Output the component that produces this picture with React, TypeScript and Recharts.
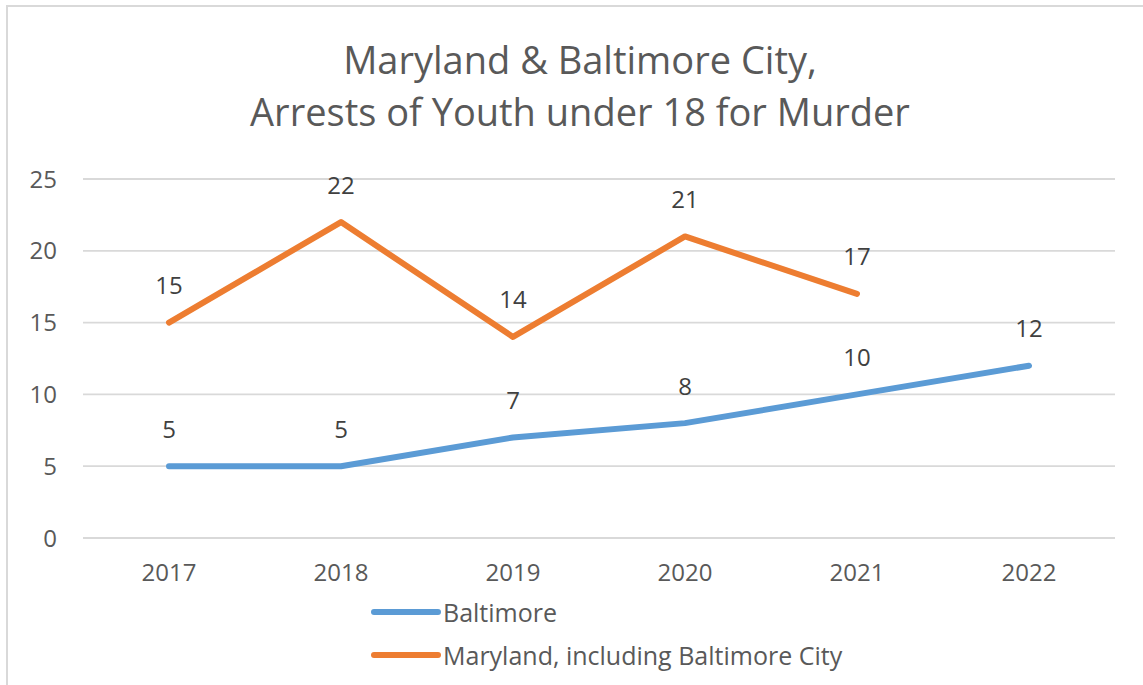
import React from 'react';
import { LineChart, Line, XAxis, YAxis, CartesianGrid, Legend, LabelList } from 'recharts';

const years = ['2017', '2018', '2019', '2020', '2021', '2022'];
const baltimore = [5, 5, 7, 8, 10, 12];
const maryland: (number | null)[] = [15, 22, 14, 21, 17, null];
const yTicks = [0, 5, 10, 15, 20, 25];
const seriesNames = ['Baltimore', 'Maryland, including Baltimore City'];
const seriesColors = ['#5b9bd5', '#ed7d31'];
const titleLines = ['Maryland & Baltimore City,', 'Arrests of Youth under 18 for Murder'];

const data = years.map((y, i) => ({ year: y, baltimore: baltimore[i], maryland: maryland[i] }));

const FONT = '"Open Sans", sans-serif';

const renderLabel = (props: any) => {
  const { x, y, value } = props;
  if (value === null || value === undefined) return null;
  return (
    <text
      x={x}
      y={y - 38}
      textAnchor="middle"
      dominantBaseline="central"
      fontSize={24}
      fontFamily={FONT}
      fill="#404040"
    >
      {value}
    </text>
  );
};

const renderLegend = (props: any) => {
  const { payload } = props;
  return (
    <div style={{ fontFamily: FONT }}>
      {(payload || []).map((entry: any, i: number) => (
        <div key={i} style={{ display: 'flex', alignItems: 'center', height: 43 }}>
          <svg width={72} height={12} style={{ display: 'block' }}>
            <line x1={3} y1={6} x2={67} y2={6} stroke={entry.color} strokeWidth={6} strokeLinecap="round" />
          </svg>
          <span style={{ fontSize: 25, color: '#595959', marginLeft: 0 }}>{entry.value}</span>
        </div>
      ))}
    </div>
  );
};

export default function App() {
  return (
    <div
      style={{
        position: 'fixed',
        left: 0,
        top: 0,
        width: 1143,
        height: 685,
        overflow: 'hidden',
        background: '#ffffff',
        fontFamily: FONT,
      }}
    >
      <div
        style={{
          position: 'absolute',
          left: 6,
          top: 5,
          width: 1200,
          height: 760,
          border: '2px solid #d9d9d9',
          boxSizing: 'border-box',
        }}
      />
      <div
        style={{
          position: 'absolute',
          left: 0,
          top: 33,
          width: 1160,
          textAlign: 'center',
          fontSize: 38,
          lineHeight: '52px',
          color: '#595959',
        }}
      >
        {titleLines.map((t, i) => (
          <div key={i}>{t}</div>
        ))}
      </div>
      <div style={{ position: 'absolute', left: 0, top: 0 }}>
        <LineChart
          width={1143}
          height={685}
          data={data}
          margin={{ top: 179, right: 28, bottom: 87, left: 23 }}
          style={{ fontFamily: FONT }}
        >
          <CartesianGrid vertical={false} stroke="#d9d9d9" strokeWidth={1.8} />
          <XAxis
            dataKey="year"
            axisLine={false}
            tickLine={false}
            tickSize={0}
            tickMargin={26}
            height={60}
            padding={{ left: 86, right: 86 }}
            tick={{ fontSize: 24, fill: '#595959', fontFamily: FONT }}
          />
          <YAxis
            domain={[0, 25]}
            ticks={yTicks}
            axisLine={false}
            tickLine={false}
            tickSize={0}
            tickMargin={26}
            width={60}
            tick={{ fontSize: 24, fill: '#595959', fontFamily: FONT }}
          />
          <Legend
            layout="vertical"
            align="center"
            verticalAlign="middle"
            content={renderLegend}
            wrapperStyle={{ left: 371, top: 590, width: 520 }}
          />
          <Line
            name={seriesNames[0]}
            dataKey="baltimore"
            stroke={seriesColors[0]}
            strokeWidth={6}
            strokeLinecap="round"
            strokeLinejoin="round"
            dot={false}
            activeDot={false}
            isAnimationActive={false}
          >
            <LabelList dataKey="baltimore" content={renderLabel} />
          </Line>
          <Line
            name={seriesNames[1]}
            dataKey="maryland"
            stroke={seriesColors[1]}
            strokeWidth={6}
            strokeLinecap="round"
            strokeLinejoin="round"
            dot={false}
            activeDot={false}
            isAnimationActive={false}
          >
            <LabelList dataKey="maryland" content={renderLabel} />
          </Line>
        </LineChart>
      </div>
    </div>
  );
}
